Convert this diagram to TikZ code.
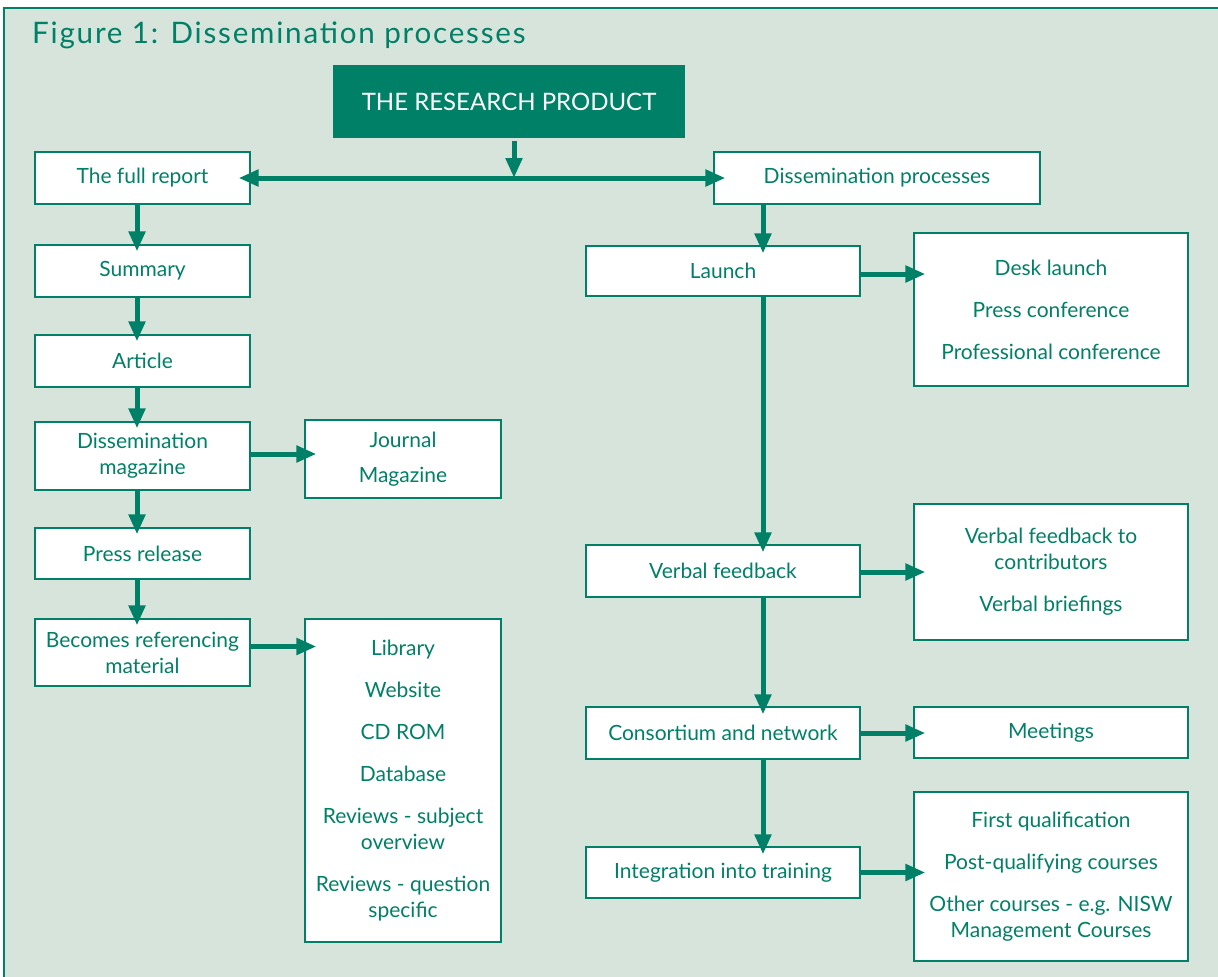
\documentclass[tikz,border=0pt]{standalone}
\usepackage{fontspec}
\setmainfont{Lato}
\usepackage{tikz}
\usetikzlibrary{arrows.meta}

\definecolor{dgreen}{RGB}{0,128,102}
\definecolor{paleback}{RGB}{214,228,220}

\begin{document}
\begin{tikzpicture}[x=1pt,y=-1pt]

	\tikzstyle{box} = [draw=dgreen, line width=1.2pt, fill=white, text=dgreen, align=center, inner sep=2pt, font=\fontsize{21}{26}\selectfont]
	\tikzstyle{leftbox} = [box, minimum width=215pt]
	\tikzstyle{midbox} = [box, minimum width=196pt]
	\tikzstyle{rightbox} = [box, minimum width=274pt]
	\tikzstyle{flow} = [-{Triangle[length=20pt,width=16pt]}, line width=5pt, draw=dgreen, shorten >=-12pt]

	\useasboundingbox (0,0) rectangle (1218,977);
	\fill[white] (0,0) rectangle (1218,977);
	\fill[paleback] (4,8) rectangle (1218,977);
	\draw[dgreen, line width=1.5pt] (4,977) -- (4,8) -- (1218,8);

	\node[anchor=base west, inner sep=0pt, text=dgreen, font=\fontsize{29.6}{34}\selectfont\addfontfeatures{LetterSpace=6}] (title) at (32,43) {Figure 1: Dissemination processes};

%------------------------------------------------------------
	\node[box, fill=dgreen, text=white, minimum width=350pt, minimum height=71pt, font=\fontsize{24}{28}\selectfont] (product) at (509,101.5) {THE RESEARCH PRODUCT};

	\node[leftbox, minimum height=52pt] (fullrep) at (142.5,178) {The full report};
	\node[box, minimum width=326pt, minimum height=52pt] (dissproc) at (877,178) {Dissemination processes};

	\coordinate (junction) at (514,178);
	\coordinate (leftspine) at (137,0);
	\coordinate (rightspine) at (763,0);

	\draw[flow, shorten >=0pt] ([xshift=5pt,yshift=-3pt]product.south) -- (junction);
	\draw[flow, {Triangle[length=20pt,width=16pt]}-{Triangle[length=20pt,width=16pt]}, shorten <=-12pt] (fullrep.east) -- (dissproc.west);

%------------------------------------------------------------
	\node[leftbox, minimum height=52pt] (summary) at (142.5,271) {Summary};
	\node[leftbox, minimum height=52pt] (article) at (142.5,361) {Article};
	\node[leftbox, minimum height=68pt] (magazine) at (142.5,456) {Dissemination\\magazine};
	\node[leftbox, minimum height=51pt] (press) at (142.5,553.5) {Press release};
	\node[leftbox, minimum height=67pt] (referencing) at (142.5,652.5) {Becomes referencing\\material};

	\node[midbox, minimum height=78pt] (journal) at (403,459) {Journal\\[9pt]Magazine};
	\node[midbox, minimum height=323pt] (library) at (403,780.5) {Library\\[16pt]Website\\[16pt]CD ROM\\[16pt]Database\\[16pt]Reviews - subject\\overview\\[16pt]Reviews - question\\specific};

	\draw[flow, shorten >=-7pt] (fullrep.south -| leftspine) -- (summary.north -| leftspine);
	\draw[flow, shorten >=-7pt] (summary.south -| leftspine) -- (article.north -| leftspine);
	\draw[flow, shorten >=-7pt] (article.south -| leftspine) -- (magazine.north -| leftspine);
	\draw[flow, shorten >=-7pt] (magazine.south -| leftspine) -- (press.north -| leftspine);
	\draw[flow, shorten >=-7pt] (press.south -| leftspine) -- (referencing.north -| leftspine);

	\draw[flow] ([yshift=2pt]magazine.east) -- ([yshift=2pt]magazine.east -| journal.west);
	\draw[flow] ([yshift=6pt]referencing.east) -- ([yshift=6pt]referencing.east -| library.west);

%------------------------------------------------------------
	\node[rightbox, minimum height=50pt] (launch) at (723,271) {Launch};
	\node[rightbox, minimum height=52pt] (verbal) at (723,571) {Verbal feedback};
	\node[rightbox, minimum height=52pt] (consortium) at (723,733) {Consortium and network};
	\node[rightbox, minimum height=51pt] (training) at (723,872.5) {Integration into training};

	\node[rightbox, minimum height=153pt] (desk) at (1051,309.5) {Desk launch\\[16pt]Press conference\\[16pt]Professional conference};
	\node[rightbox, minimum height=136pt] (briefings) at (1051,572) {Verbal feedback to\\contributors\\[16pt]Verbal briefings};
	\node[rightbox, minimum height=51pt] (meetings) at (1051,732.5) {Meetings};
	\node[rightbox, minimum height=169pt] (courses) at (1051,876.5) {First qualification\\[16pt]Post-qualifying courses\\[16pt]Other courses - e.g. NISW\\Management Courses};

	\draw[flow, shorten >=-8pt] (dissproc.south -| rightspine) -- (launch.north -| rightspine);
	\draw[flow, shorten >=-8pt] (launch.south -| rightspine) -- (verbal.north -| rightspine);
	\draw[flow, shorten >=-8pt] (verbal.south -| rightspine) -- (consortium.north -| rightspine);
	\draw[flow, shorten >=-8pt] (consortium.south -| rightspine) -- (training.north -| rightspine);

	\draw[flow] ([yshift=-3pt]launch.east) -- ([yshift=-3pt]launch.east -| desk.west);
	\draw[flow] ([yshift=-1pt]verbal.east) -- ([yshift=-1pt]verbal.east -| briefings.west);
	\draw[flow] (consortium.east) -- (consortium.east -| meetings.west);
	\draw[flow] (training.east) -- (training.east -| courses.west);

\end{tikzpicture}
\end{document}
